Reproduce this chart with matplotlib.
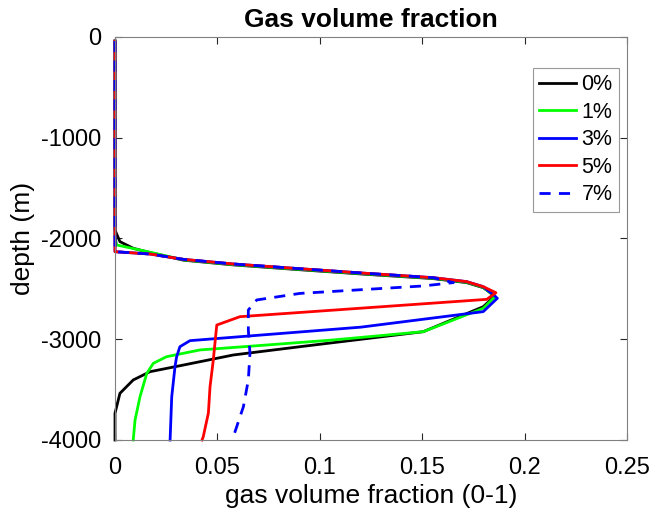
import matplotlib
matplotlib.use("Agg")
import matplotlib.pyplot as plt

plt.rcParams['font.family'] = ['Liberation Sans', 'DejaVu Sans']

labels = ['0%', '1%', '3%', '5%', '7%']

# common upper profile (x = gas fraction, y = depth)
x0 = [0.0, 0.0, 0.0, 0.0024, 0.0089, 0.0171, 0.0334, 0.0578, 0.0903, 0.1229, 0.1554, 0.1717, 0.1798, 0.1855,
      0.1798, 0.1505, 0.0903, 0.0578, 0.0334, 0.0171, 0.0089, 0.0024, 0.0, 0.0]
y0 = [-40, -1850, -1916, -2031, -2097, -2140, -2215, -2262, -2310, -2356, -2398, -2438, -2488, -2570,
      -2677, -2925, -3074, -3156, -3256, -3322, -3404, -3537, -3735, -4000]

x1 = [0.0, 0.0, 0.0008, 0.0171, 0.0334, 0.0578, 0.0903, 0.1229, 0.1554, 0.1717, 0.1798, 0.1855,
      0.1798, 0.1505, 0.1066, 0.0741, 0.0415, 0.0252, 0.0187, 0.0155, 0.0122, 0.0098, 0.0089]
y1 = [-40, -1980, -2064, -2136, -2212, -2259, -2306, -2352, -2394, -2434, -2484, -2578,
      -2693, -2925, -3007, -3057, -3106, -3173, -3239, -3340, -3571, -3801, -4000]

x3 = [0.0, 0.0, 0.0, 0.0171, 0.0334, 0.0578, 0.0903, 0.1229, 0.1554, 0.1717, 0.1798, 0.1867,
      0.1798, 0.1200, 0.0366, 0.0317, 0.0301, 0.0293, 0.0277, 0.0269]
y3 = [-40, -2100, -2131, -2154, -2207, -2253, -2300, -2346, -2389, -2428, -2478, -2593,
      -2726, -2880, -3014, -3074, -3173, -3272, -3571, -4000]

x5 = [0.0, 0.0, 0.0, 0.0171, 0.0334, 0.0578, 0.0903, 0.1229, 0.1554, 0.1717, 0.1798, 0.1860,
      0.1815, 0.0610, 0.0497, 0.0488, 0.0480, 0.0464, 0.0456, 0.0431, 0.0425]
y5 = [-40, -2100, -2131, -2154, -2207, -2253, -2300, -2346, -2389, -2428, -2478, -2538,
      -2604, -2776, -2859, -3040, -3206, -3471, -3732, -3967, -4000]

x7 = [0.0, 0.0, 0.0, 0.0171, 0.0334, 0.0578, 0.0903, 0.1229, 0.1554, 0.1652, 0.1505, 0.0903, 0.0692,
      0.0651, 0.0651, 0.0659, 0.0651, 0.0627, 0.0578, 0.0570]
y7 = [-40, -2100, -2131, -2154, -2207, -2253, -2300, -2346, -2389, -2438, -2471, -2545, -2610,
      -2710, -2908, -3140, -3404, -3669, -3967, -4000]

series = [(x0, y0, 'black', '-'), (x1, y1, '#00ff00', '-'), (x3, y3, '#0000ff', '-'),
          (x5, y5, '#ff0000', '-'), (x7, y7, '#0000ff', '--')]

fig = plt.figure(figsize=(6.65, 5.16), dpi=100)
ax = fig.add_axes([115/665, 1-440/516, 512/665, 403/516])

for (xs, ys, c, ls), lab in zip(series, labels):
    ax.plot(xs, ys, color=c, linestyle=ls, linewidth=2, label=lab, clip_on=False,
            dashes=(4, 3) if ls == '--' else (None, None))

ax.set_xlim(0, 0.25)
ax.set_ylim(-4000, 0)
ax.set_xticks([0, 0.05, 0.1, 0.15, 0.2, 0.25])
ax.set_xticklabels(['0', '0.05', '0.1', '0.15', '0.2', '0.25'])
ax.set_yticks([-4000, -3000, -2000, -1000, 0])
ax.set_yticklabels(['-4000', '-3000', '-2000', '-1000', '0'])
ax.tick_params(direction='in', length=5, width=0.8, color='#262626', labelsize=17,
               top=True, right=True)
ax.tick_params(axis='x', pad=12)
ax.tick_params(axis='y', pad=10)
for s in ax.spines.values():
    s.set_color('#808080')
    s.set_linewidth(0.8)

ax.set_title('Gas volume fraction', fontsize=19, fontweight='bold', pad=7)
ax.set_xlabel('gas volume fraction (0-1)', fontsize=19, labelpad=4)
ax.set_ylabel('depth (m)', fontsize=19, labelpad=4)

leg = ax.legend(loc='upper right', bbox_to_anchor=(1 - 8/512, 1 - 31/403), fontsize=15.5, frameon=True,
                fancybox=False, edgecolor='#808080', handlelength=1.7, handletextpad=0.25,
                borderpad=0.3, labelspacing=0.3, borderaxespad=0)
leg.get_frame().set_linewidth(0.8)

fig.savefig('out.png', dpi=100)
